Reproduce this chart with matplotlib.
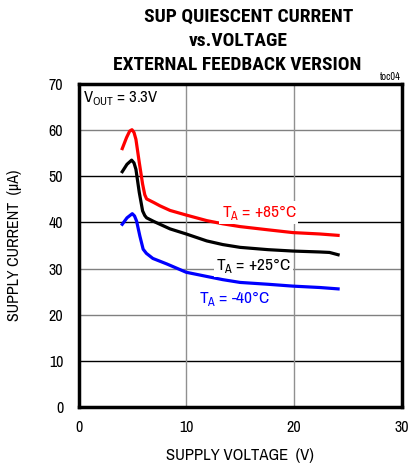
import matplotlib
matplotlib.use("Agg")
import matplotlib.pyplot as plt
from matplotlib import font_manager as fm

# Data
v_85 = [4.06, 4.46, 4.75, 4.96, 5.15, 5.33, 5.64, 5.95, 6.15, 6.32, 7.0, 7.56, 8.5, 10.0, 11.9, 13.4, 15.0, 17.6, 19.9, 22.4, 24.1]
i_85 = [56.0, 58.4, 59.8, 60.1, 59.5, 58.0, 53.0, 48.3, 46.0, 45.1, 44.3, 43.6, 42.6, 41.6, 40.4, 39.7, 39.1, 38.4, 37.8, 37.5, 37.2]

v_25 = [4.06, 4.5, 4.93, 5.15, 5.33, 5.64, 5.95, 6.15, 6.32, 7.0, 7.56, 8.5, 10.0, 11.9, 13.4, 15.0, 17.6, 19.9, 22.4, 23.3, 24.1]
i_25 = [51.0, 52.6, 53.5, 52.9, 51.5, 46.5, 42.5, 41.5, 41.0, 40.2, 39.6, 38.6, 37.5, 36.0, 35.2, 34.6, 34.1, 33.8, 33.6, 33.5, 33.0]

v_m40 = [4.06, 4.5, 4.99, 5.2, 5.39, 5.70, 6.0, 6.3, 6.9, 8.2, 10.0, 11.9, 13.4, 15.0, 17.6, 19.9, 22.4, 24.1]
i_m40 = [39.6, 41.0, 41.9, 41.4, 40.3, 37.0, 34.2, 33.3, 32.2, 31.0, 29.2, 28.3, 27.6, 27.0, 26.6, 26.2, 25.9, 25.6]

x_ticks = [0, 10, 20, 30]
y_ticks = [0, 10, 20, 30, 40, 50, 60, 70]

# pick a narrow sans family if one is installed
avail = {}
for f in fm.fontManager.ttflist:
    avail.setdefault(f.name, set()).add(f.weight)
narrow = None
for n in ['Liberation Sans Narrow', 'Arial Narrow', 'Nimbus Sans Narrow', 'Archivo Narrow', 'Roboto Condensed', 'Liberation Sans']:
    if n in avail:
        narrow = n
        break
bold_narrow = None
for n in ['Liberation Sans Narrow', 'Arial Narrow', 'Nimbus Sans Narrow', 'Roboto Condensed', 'Archivo Narrow', 'Liberation Sans']:
    if n in avail and any((w if isinstance(w, int) else 400) >= 600 for w in avail[n]):
        bold_narrow = n
        break
if bold_narrow is None:
    bold_narrow = 'Liberation Sans'

plt.rcParams['font.family'] = [narrow, 'Liberation Sans', 'DejaVu Sans']
plt.rcParams['mathtext.fontset'] = 'custom'
plt.rcParams['mathtext.rm'] = narrow

fig = plt.figure(figsize=(4.09, 4.68), dpi=100)
ax = fig.add_axes([0.192, 0.1303, 0.790, 0.6902])

ax.set_xlim(0, 30)
ax.set_ylim(0, 70)
ax.set_xticks(x_ticks)
ax.set_yticks(y_ticks)
ax.tick_params(axis='y', length=0, labelsize=11.5, pad=11)
ax.tick_params(axis='x', length=0, labelsize=11.5, pad=9)

grid_colors = {10: 'black', 20: '#808080', 30: '#808080', 40: 'black', 50: 'black', 60: '#808080'}
for yv, c in grid_colors.items():
    ax.axhline(yv, color=c, lw=1.0, zorder=1)
for xv in [10, 20]:
    ax.axvline(xv, color='#909090', lw=1.0, zorder=1)

for s in ax.spines.values():
    s.set_linewidth(2.5)

ax.plot(v_85, i_85, color='#ff0000', lw=2.3, zorder=3, solid_joinstyle='round')
ax.plot(v_25, i_25, color='black', lw=2.3, zorder=3, solid_joinstyle='round')
ax.plot(v_m40, i_m40, color='#0000ff', lw=2.3, zorder=3, solid_joinstyle='round')

bbox = dict(facecolor='white', edgecolor='none', pad=1.5)
ax.text(16.75, 42.2, r'T$_\mathregular{A}$ = +85°C', color='#ff0000', fontsize=12.5,
        ha='center', va='center', bbox=bbox, zorder=4)
ax.text(16.2, 30.6, r'T$_\mathregular{A}$ = +25°C', color='black', fontsize=12.5,
        ha='center', va='center', bbox=bbox, zorder=4)
ax.text(14.5, 23.6, r'T$_\mathregular{A}$ = -40°C', color='#0000ff', fontsize=12.5,
        ha='center', va='center', bbox=bbox, zorder=4)

ax.text(0.4, 66.9, r'V$_\mathregular{OUT}$ = 3.3V', color='black', fontsize=12,
        ha='left', va='center', zorder=4)

ax.set_xlabel('SUPPLY VOLTAGE  (V)', fontsize=12, labelpad=10)
ax.set_ylabel('SUPPLY CURRENT  (µA)', fontsize=11.5, labelpad=19)

tkw = dict(fontsize=14, fontweight='bold', ha='center', va='center', family=[bold_narrow, 'Liberation Sans', 'DejaVu Sans'])
fig.text(0.609, 0.965, 'SUP QUIESCENT CURRENT', **tkw)
fig.text(0.582, 0.913, 'vs.VOLTAGE', **tkw)
fig.text(0.580, 0.861, 'EXTERNAL FEEDBACK VERSION', **tkw)
fig.text(0.98, 0.836, 'toc04', fontsize=7.5, ha='right', va='center')

fig.savefig('out.png', dpi=100)
